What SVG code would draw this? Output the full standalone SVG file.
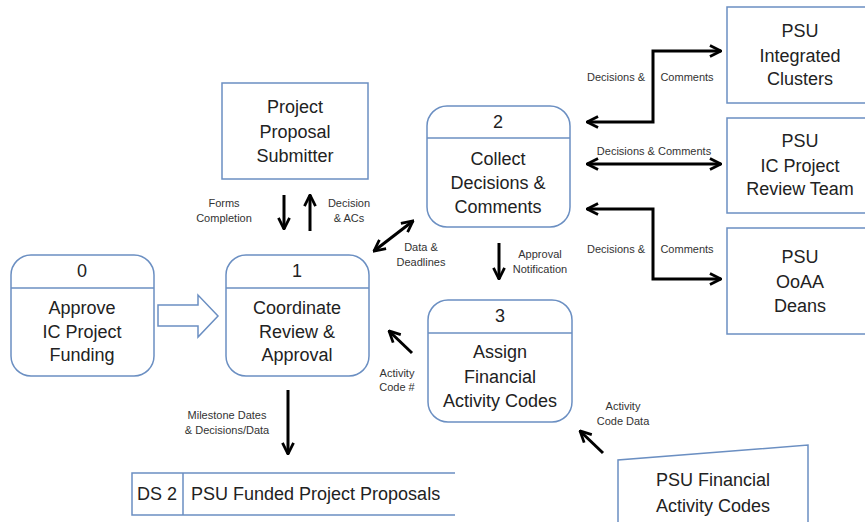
<svg xmlns="http://www.w3.org/2000/svg" width="865" height="522" viewBox="0 0 865 522">
<style>
.box{fill:#fff;stroke:#6b8fc2;stroke-width:1.5}
.t{font-family:"Liberation Sans",Arial,sans-serif;font-size:18px;fill:#222;text-anchor:middle}
.s{font-family:"Liberation Sans",Arial,sans-serif;font-size:11px;fill:#333;text-anchor:middle}
.c{fill:none;stroke:#000;stroke-width:3}
</style>
<defs>
<marker id="ah" viewBox="0 0 10 10" refX="9" refY="5" markerWidth="4.6" markerHeight="4.6" orient="auto-start-reverse" markerUnits="strokeWidth">
<path d="M1,1 L9,5 L1,9" fill="none" stroke="#000" stroke-width="2"/>
</marker>
</defs>
<rect width="865" height="522" fill="#fff"/>

<g id="node0">
<rect class="box" x="11" y="255" width="143" height="121" rx="20"/>
<line class="box" x1="11" y1="288" x2="154" y2="288"/>
<text class="t" x="82" y="277">0</text>
<text class="t" x="82" y="314">Approve</text>
<text class="t" x="82" y="338">IC Project</text>
<text class="t" x="82" y="361">Funding</text>
</g>

<g id="node1">
<rect class="box" x="226" y="255" width="143" height="121" rx="20"/>
<line class="box" x1="226" y1="288" x2="369" y2="288"/>
<text class="t" x="297" y="277">1</text>
<text class="t" x="297" y="314">Coordinate</text>
<text class="t" x="297" y="338">Review &amp;</text>
<text class="t" x="297" y="361">Approval</text>
</g>

<g id="node2">
<rect class="box" x="427" y="106" width="143" height="121" rx="20"/>
<line class="box" x1="427" y1="138" x2="570" y2="138"/>
<text class="t" x="498" y="128">2</text>
<text class="t" x="498" y="165">Collect</text>
<text class="t" x="498" y="189">Decisions &amp;</text>
<text class="t" x="498" y="213">Comments</text>
</g>

<g id="node3">
<rect class="box" x="428" y="300" width="144" height="122" rx="20"/>
<line class="box" x1="428" y1="333" x2="572" y2="333"/>
<text class="t" x="500" y="322">3</text>
<text class="t" x="500" y="358">Assign</text>
<text class="t" x="500" y="383">Financial</text>
<text class="t" x="500" y="407">Activity Codes</text>
</g>

<g id="submitter">
<rect class="box" x="222" y="83" width="146" height="96"/>
<text class="t" x="295" y="113">Project</text>
<text class="t" x="295" y="138">Proposal</text>
<text class="t" x="295" y="162">Submitter</text>
</g>

<g id="clusters">
<rect class="box" x="727" y="7" width="148" height="96"/>
<text class="t" x="800" y="37">PSU</text>
<text class="t" x="800" y="62">Integrated</text>
<text class="t" x="800" y="85">Clusters</text>
</g>

<g id="reviewteam">
<rect class="box" x="727" y="118" width="148" height="95"/>
<text class="t" x="800" y="147">PSU</text>
<text class="t" x="800" y="172">IC Project</text>
<text class="t" x="800" y="195">Review Team</text>
</g>

<g id="deans">
<rect class="box" x="727" y="228" width="148" height="106"/>
<text class="t" x="800" y="263">PSU</text>
<text class="t" x="800" y="288">OoAA</text>
<text class="t" x="800" y="312">Deans</text>
</g>

<g id="ds2">
<path class="box" d="M455,473 H132 V515 H455 M183,473 V515" fill="none"/>
<text class="t" x="157" y="500">DS 2</text>
<text class="t" x="191" y="500" style="text-anchor:start">PSU Funded Project Proposals</text>
</g>

<g id="financialcodes">
<path class="box" d="M618,523 V460 L808,445 V523"/>
<text class="t" x="713" y="486">PSU Financial</text>
<text class="t" x="713" y="512">Activity Codes</text>
</g>

<g id="connectors">
<path class="box" d="M158,305 H198 V295 L218,316 L198,337 V326 H158 Z"/>
<line class="c" x1="284" y1="195" x2="284" y2="229" marker-end="url(#ah)"/>
<line class="c" x1="310" y1="231" x2="310" y2="195" marker-end="url(#ah)"/>
<line class="c" x1="374" y1="251" x2="413" y2="221" marker-start="url(#ah)" marker-end="url(#ah)"/>
<line class="c" x1="499" y1="243" x2="499" y2="279" marker-end="url(#ah)"/>
<line class="c" x1="412" y1="353" x2="389" y2="331" marker-end="url(#ah)"/>
<line class="c" x1="603" y1="453" x2="580" y2="431" marker-end="url(#ah)"/>
<line class="c" x1="288" y1="390" x2="288" y2="454" marker-end="url(#ah)"/>
<path class="c" d="M587,122 H653 V51 H721" marker-start="url(#ah)" marker-end="url(#ah)"/>
<line class="c" x1="587" y1="164" x2="721" y2="164" marker-start="url(#ah)" marker-end="url(#ah)"/>
<path class="c" d="M587,209 H653 V279 H721" marker-start="url(#ah)" marker-end="url(#ah)"/>
</g>

<g id="labels">
<text class="s" x="224" y="207">Forms</text>
<text class="s" x="224" y="222">Completion</text>
<text class="s" x="349" y="207">Decision</text>
<text class="s" x="349" y="222">&amp; ACs</text>
<text class="s" x="421" y="251">Data &amp;</text>
<text class="s" x="421" y="266">Deadlines</text>
<text class="s" x="540" y="258">Approval</text>
<text class="s" x="540" y="273">Notification</text>
<text class="s" x="397" y="377">Activity</text>
<text class="s" x="397" y="391">Code #</text>
<text class="s" x="623" y="410">Activity</text>
<text class="s" x="623" y="425">Code Data</text>
<text class="s" x="227" y="419">Milestone Dates</text>
<text class="s" x="227" y="434">&amp; Decisions/Data</text>
<text class="s" x="616" y="81">Decisions &amp;</text>
<text class="s" x="687" y="81">Comments</text>
<text class="s" x="654" y="155">Decisions &amp; Comments</text>
<text class="s" x="616" y="253">Decisions &amp;</text>
<text class="s" x="687" y="253">Comments</text>
</g>
</svg>
